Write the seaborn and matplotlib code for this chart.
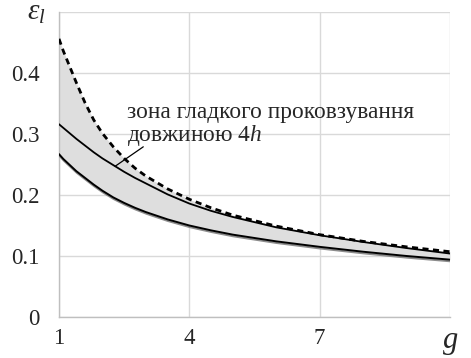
import matplotlib
matplotlib.use("Agg")
import matplotlib.pyplot as plt
import matplotlib.patheffects as pe
import pandas as pd
import seaborn as sns

# Parameter g and the three strain curves
g = [1, 1.1, 1.25, 1.4, 1.6, 1.8, 2, 2.25, 2.5, 2.75, 3, 3.5, 4, 4.5,
     5, 6, 7, 8, 9, 10]
eps_upper = [0.456, 0.436, 0.410, 0.384, 0.351, 0.323, 0.301, 0.279, 0.260,
             0.244, 0.231, 0.210, 0.193, 0.179, 0.167, 0.149, 0.135, 0.124,
             0.115, 0.107]
eps_middle = [0.316, 0.310, 0.301, 0.292, 0.281, 0.270, 0.260, 0.249, 0.238,
              0.228, 0.219, 0.201, 0.186, 0.174, 0.164, 0.147, 0.134, 0.123,
              0.113, 0.104]
eps_lower = [0.267, 0.259, 0.249, 0.239, 0.228, 0.217, 0.207, 0.196, 0.187,
             0.179, 0.172, 0.160, 0.150, 0.142, 0.135, 0.124, 0.115, 0.107,
             0.100, 0.094]

x_ticks = [1, 4, 7, 10]
x_tick_labels = ["1", "4", "7", "$g$"]
y_ticks = [0, 0.1, 0.2, 0.3, 0.4]
y_tick_labels = ["0", "0.1", "0.2", "0.3", "0.4"]

sns.set_style("white")
plt.rcParams["font.family"] = ["Liberation Serif", "DejaVu Serif"]
plt.rcParams["mathtext.fontset"] = "custom"
plt.rcParams["mathtext.rm"] = "Liberation Serif"
plt.rcParams["mathtext.it"] = "Liberation Serif:italic"

df = pd.DataFrame({"g": g, "upper": eps_upper, "middle": eps_middle,
                   "lower": eps_lower})

fig = plt.figure(figsize=(4.71, 3.58), dpi=100)
ax = fig.add_axes([59 / 471, 1 - 317 / 358, (450 - 59) / 471, (317 - 12) / 358])

# shaded zone between the lower curve and the dashed curve
ax.fill_between(df["g"], df["lower"], df["upper"], color="#dedede", lw=0, zorder=1)

sns.lineplot(data=df, x="g", y="upper", ax=ax, color="black", lw=2.0,
             linestyle=(0, (2.2, 1.6)), zorder=3)
sns.lineplot(data=df, x="g", y="middle", ax=ax, color="black", lw=1.3, zorder=3)
sns.lineplot(data=df, x="g", y="lower", ax=ax, color="black", lw=1.4, zorder=3,
             path_effects=[pe.SimpleLineShadow(offset=(0.3, -1.2),
                                               shadow_color="#808080", alpha=0.9),
                           pe.Normal()])

ax.set_xlim(1, 10)
ax.set_ylim(0, 0.5)
ax.set_xticks(x_ticks)
ax.set_xticklabels(x_tick_labels)
ax.set_yticks(y_ticks)
ax.set_yticklabels(y_tick_labels)
ax.set_xlabel("")
ax.set_ylabel("")

ax.grid(True, color="#d9d9d9", lw=1.0, zorder=0)
ax.axhline(0.5, color="#d9d9d9", lw=1.0, zorder=0)
ax.set_axisbelow(True)
for side in ["top", "right"]:
    ax.spines[side].set_visible(False)
for side in ["left", "bottom"]:
    ax.spines[side].set_color("#bfbfbf")
    ax.spines[side].set_linewidth(1.0)
ax.tick_params(axis="both", which="major", direction="out", length=6,
               width=1.0, color="#bfbfbf", labelsize=16.5)
ax.tick_params(axis="y", pad=8)
ax.tick_params(axis="x", pad=2)
labels = ax.get_xticklabels()
labels[-1].set_fontsize(22)

# axis symbol at the top of the y axis
fig.text(36 / 471, 1 - 13 / 358, r"$\varepsilon_{l}$", fontsize=21,
         ha="center", va="center")

# annotation of the zone
ax.text(2.57, 0.336, "зона гладкого проковзування", fontsize=16.8,
        ha="left", va="center", zorder=4)
ax.text(2.57, 0.297, "довжиною 4$h$", fontsize=16.8,
        ha="left", va="center", zorder=4)
ax.plot([2.29, 2.94], [0.247, 0.279], color="black", lw=0.9, zorder=4)

fig.savefig("out.png", dpi=100)
